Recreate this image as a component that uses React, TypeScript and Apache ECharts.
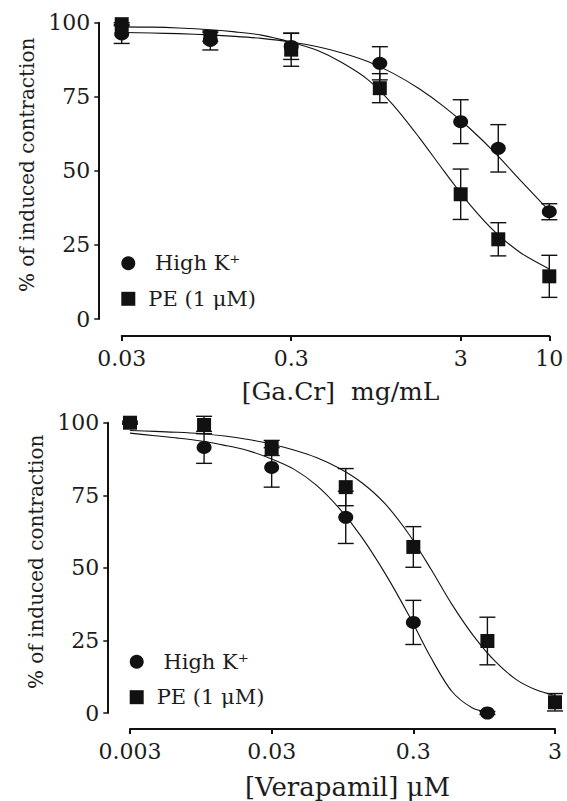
import React, { useEffect, useRef } from "react";
import * as echarts from "echarts";

// ---------- Top panel: [Ga.Cr] mg/mL ----------
const gaConc = [0.03, 0.1, 0.3, 1, 3, 5, 10];
const gaHighK = [96.2, 94.0, 92.0, 86.3, 66.6, 57.6, 36.2];
const gaHighKErr = [3.2, 3.2, 4.4, 5.6, 7.4, 8.0, 2.7];
const gaPE = [99.5, 95.2, 90.9, 77.9, 42.1, 26.9, 14.4];
const gaPEErr = [0.5, 1.5, 5.6, 4.9, 8.5, 5.6, 7.1];
const gaFitConc = [0.03, 0.045, 0.065, 0.1, 0.14, 0.2, 0.3, 0.43, 0.6, 0.85, 1.2, 1.7, 2.4, 3.4, 4.8, 6.8, 10];
const gaHighKFit = [96.7, 96.5, 96.3, 95.9, 95.4, 94.7, 93.5, 91.9, 89.8, 86.9, 82.9, 77.8, 71.6, 64.3, 56.0, 46.6, 36.5];
const gaPEFit = [98.6, 98.5, 98.2, 97.6, 96.9, 95.8, 93.4, 90.6, 86.5, 80.8, 72.2, 61.4, 49.8, 38.6, 29.3, 22.3, 16.9];
const gaTicks = [0.03, 0.3, 3, 10];
const gaTickLabels = ["0.03", "0.3", "3", "10"];

// ---------- Bottom panel: [Verapamil] µM ----------
const verHighKConc = [0.003, 0.01, 0.03, 0.1, 0.3, 1];
const verHighK = [100, 91.5, 84.6, 67.4, 31.2, 0.0];
const verHighKErr = [0.5, 5.5, 6.8, 9.0, 7.6, 0.5];
const verPEConc = [0.003, 0.01, 0.03, 0.1, 0.3, 1, 3];
const verPE = [100, 99.2, 91.3, 77.8, 57.2, 24.8, 3.7];
const verPEErr = [0.3, 3.0, 2.6, 6.4, 7.0, 8.2, 3.0];
const verHighKFitConc = [0.003, 0.0045, 0.0065, 0.0095, 0.014, 0.02, 0.03, 0.043, 0.062, 0.09, 0.13, 0.19, 0.28, 0.4, 0.56, 0.78, 1];
const verHighKFit = [96.4, 95.5, 94.7, 93.7, 92.2, 90.5, 87.5, 84.0, 78.5, 70.5, 60.5, 48.0, 33.5, 19.0, 7.5, 1.8, 0.3];
const verPEFitConc = [0.003, 0.0045, 0.0065, 0.0095, 0.014, 0.02, 0.03, 0.043, 0.062, 0.09, 0.13, 0.19, 0.28, 0.4, 0.56, 0.8, 1.15, 1.6, 2.2, 3];
const verPEFit = [97.3, 97.0, 96.7, 96.2, 95.4, 94.3, 92.6, 90.6, 88.0, 84.3, 79.3, 72.0, 61.5, 49.5, 37.5, 26.5, 17.5, 11.5, 8.0, 6.0];
const verTicks = [0.003, 0.03, 0.3, 3];
const verTickLabels = ["0.003", "0.03", "0.3", "3"];

const yMin = 0;
const yMax = 100;
const yStep = 25;

const HIGHK = " High K\u207A";
const PE = "PE (1 \u03BCM)";
const INK = "#111111";
const TXT = "#1c1c1c";
const FONT = '"DejaVu Serif", serif';
const SQUARE_ICON = "path://M0,0H10V10H0Z";

const lg = (v: number) => Math.log10(v);

function labelFor(ticks: number[], labels: string[]) {
  return (v: number) => {
    const i = ticks.findIndex((t) => Math.abs(lg(t) - v) < 1e-6);
    return i >= 0 ? labels[i] : "";
  };
}

function errorBars(idx: number, conc: number[], vals: number[], errs: number[], name: string) {
  return {
    type: "custom",
    name,
    xAxisIndex: idx,
    yAxisIndex: idx,
    silent: true,
    z: 3,
    encode: { x: 0, y: 1 },
    data: conc.map((c, i) => [lg(c), vals[i], errs[i]]),
    renderItem: (_p: any, api: any) => {
      const x = api.value(0);
      const y = api.value(1);
      const e = api.value(2);
      const top = api.coord([x, y + e]);
      const bot = api.coord([x, y - e]);
      const hw = 8;
      const style = { stroke: INK, lineWidth: 1.4, fill: "none" };
      return {
        type: "group",
        children: [
          { type: "line", shape: { x1: top[0], y1: top[1], x2: bot[0], y2: bot[1] }, style },
          { type: "line", shape: { x1: top[0] - hw, y1: top[1], x2: top[0] + hw, y2: top[1] }, style },
          { type: "line", shape: { x1: bot[0] - hw, y1: bot[1], x2: bot[0] + hw, y2: bot[1] }, style },
        ],
      };
    },
  };
}

function markers(idx: number, conc: number[], vals: number[], name: string, symbol: string, size: number[]) {
  return {
    type: "scatter",
    name,
    xAxisIndex: idx,
    yAxisIndex: idx,
    symbol,
    symbolSize: size,
    z: 5,
    itemStyle: { color: INK, opacity: 1 },
    data: conc.map((c, i) => [lg(c), vals[i]]),
  };
}

function fit(idx: number, conc: number[], vals: number[], name: string) {
  return {
    type: "line",
    name,
    xAxisIndex: idx,
    yAxisIndex: idx,
    showSymbol: false,
    symbol: "none",
    smooth: 0.3,
    silent: true,
    z: 2,
    lineStyle: { color: INK, width: 1.1 },
    data: conc.map((c, i) => [lg(c), vals[i]]),
  };
}

function xAxisFor(idx: number, ticks: number[], labels: string[], title: string, offset: number, nameGap: number, nameSize: number) {
  const vals = ticks.map(lg);
  return {
    type: "value",
    gridIndex: idx,
    min: lg(ticks[0]),
    max: lg(ticks[ticks.length - 1]),
    offset,
    splitLine: { show: false },
    axisLine: { show: true, onZero: false, lineStyle: { color: INK, width: 2 } },
    axisTick: { show: true, customValues: vals, length: 5, lineStyle: { color: INK, width: 2 } },
    axisLabel: {
      customValues: vals,
      formatter: labelFor(ticks, labels),
      margin: 11,
      fontSize: 22,
      fontFamily: FONT,
      color: TXT,
    },
    name: title,
    nameLocation: "middle",
    nameGap,
    nameTextStyle: { fontSize: nameSize, fontFamily: FONT, color: TXT, padding: [0, 0, 0, 10] },
  };
}

function yAxisFor(idx: number, offset: number, nameGap: number) {
  return {
    type: "value",
    gridIndex: idx,
    min: yMin,
    max: yMax,
    interval: yStep,
    offset,
    splitLine: { show: false },
    axisLine: { show: true, onZero: false, lineStyle: { color: INK, width: 2 } },
    axisTick: { show: true, length: 4, lineStyle: { color: INK, width: 1.5 } },
    axisLabel: { margin: 8, fontSize: 22, fontFamily: FONT, color: TXT },
    name: "% of induced contraction",
    nameLocation: "middle",
    nameGap,
    nameTextStyle: { fontSize: 20, fontFamily: FONT, color: TXT, padding: [0, 0, 0, 12] },
  };
}

function legendFor(left: number, top: number) {
  return {
    data: [
      { name: HIGHK, icon: "circle" },
      { name: PE, icon: SQUARE_ICON },
    ],
    orient: "vertical",
    left,
    top,
    padding: 0,
    itemWidth: 30,
    itemHeight: 14,
    itemGap: 13.5,
    selectedMode: false,
    textStyle: { fontSize: 21, fontFamily: FONT, color: TXT, lineHeight: 22 },
  };
}

export default function App() {
  const ref = useRef<HTMLDivElement>(null);

  useEffect(() => {
    if (!ref.current) return;
    const chart = echarts.init(ref.current, undefined, { renderer: "svg" });
    chart.setOption({
      animation: false,
      backgroundColor: "#ffffff",
      grid: [
        { left: 121.7, top: 22.7, width: 427.6, height: 296.3 },
        { left: 130, top: 422.7, width: 425, height: 295.6 },
      ],
      xAxis: [
        xAxisFor(0, gaTicks, gaTickLabels, "[Ga.Cr]  mg/mL", 17, 43, 25),
        xAxisFor(1, verTicks, verTickLabels, "[Verapamil] \u03BCM", 16, 45, 26),
      ],
      yAxis: [yAxisFor(0, 23.4, 52), yAxisFor(1, 22.7, 58)],
      legend: [legendFor(121.3, 252.3), legendFor(129.7, 650.7)],
      series: [
        fit(0, gaFitConc, gaHighKFit, "fitGaHighK"),
        fit(0, gaFitConc, gaPEFit, "fitGaPE"),
        errorBars(0, gaConc, gaHighK, gaHighKErr, "errGaHighK"),
        errorBars(0, gaConc, gaPE, gaPEErr, "errGaPE"),
        markers(0, gaConc, gaHighK, HIGHK, "circle", [15, 13]),
        markers(0, gaConc, gaPE, PE, "rect", [14, 14]),

        fit(1, verHighKFitConc, verHighKFit, "fitVerHighK"),
        fit(1, verPEFitConc, verPEFit, "fitVerPE"),
        errorBars(1, verHighKConc, verHighK, verHighKErr, "errVerHighK"),
        errorBars(1, verPEConc, verPE, verPEErr, "errVerPE"),
        markers(1, verHighKConc, verHighK, HIGHK, "circle", [15, 13]),
        markers(1, verPEConc, verPE, PE, "rect", [14, 14]),
      ],
    });
    return () => chart.dispose();
  }, []);

  return (
    <div
      ref={ref}
      style={{ position: "absolute", left: 0, top: 0, width: 567, height: 801, background: "#fff" }}
    />
  );
}
